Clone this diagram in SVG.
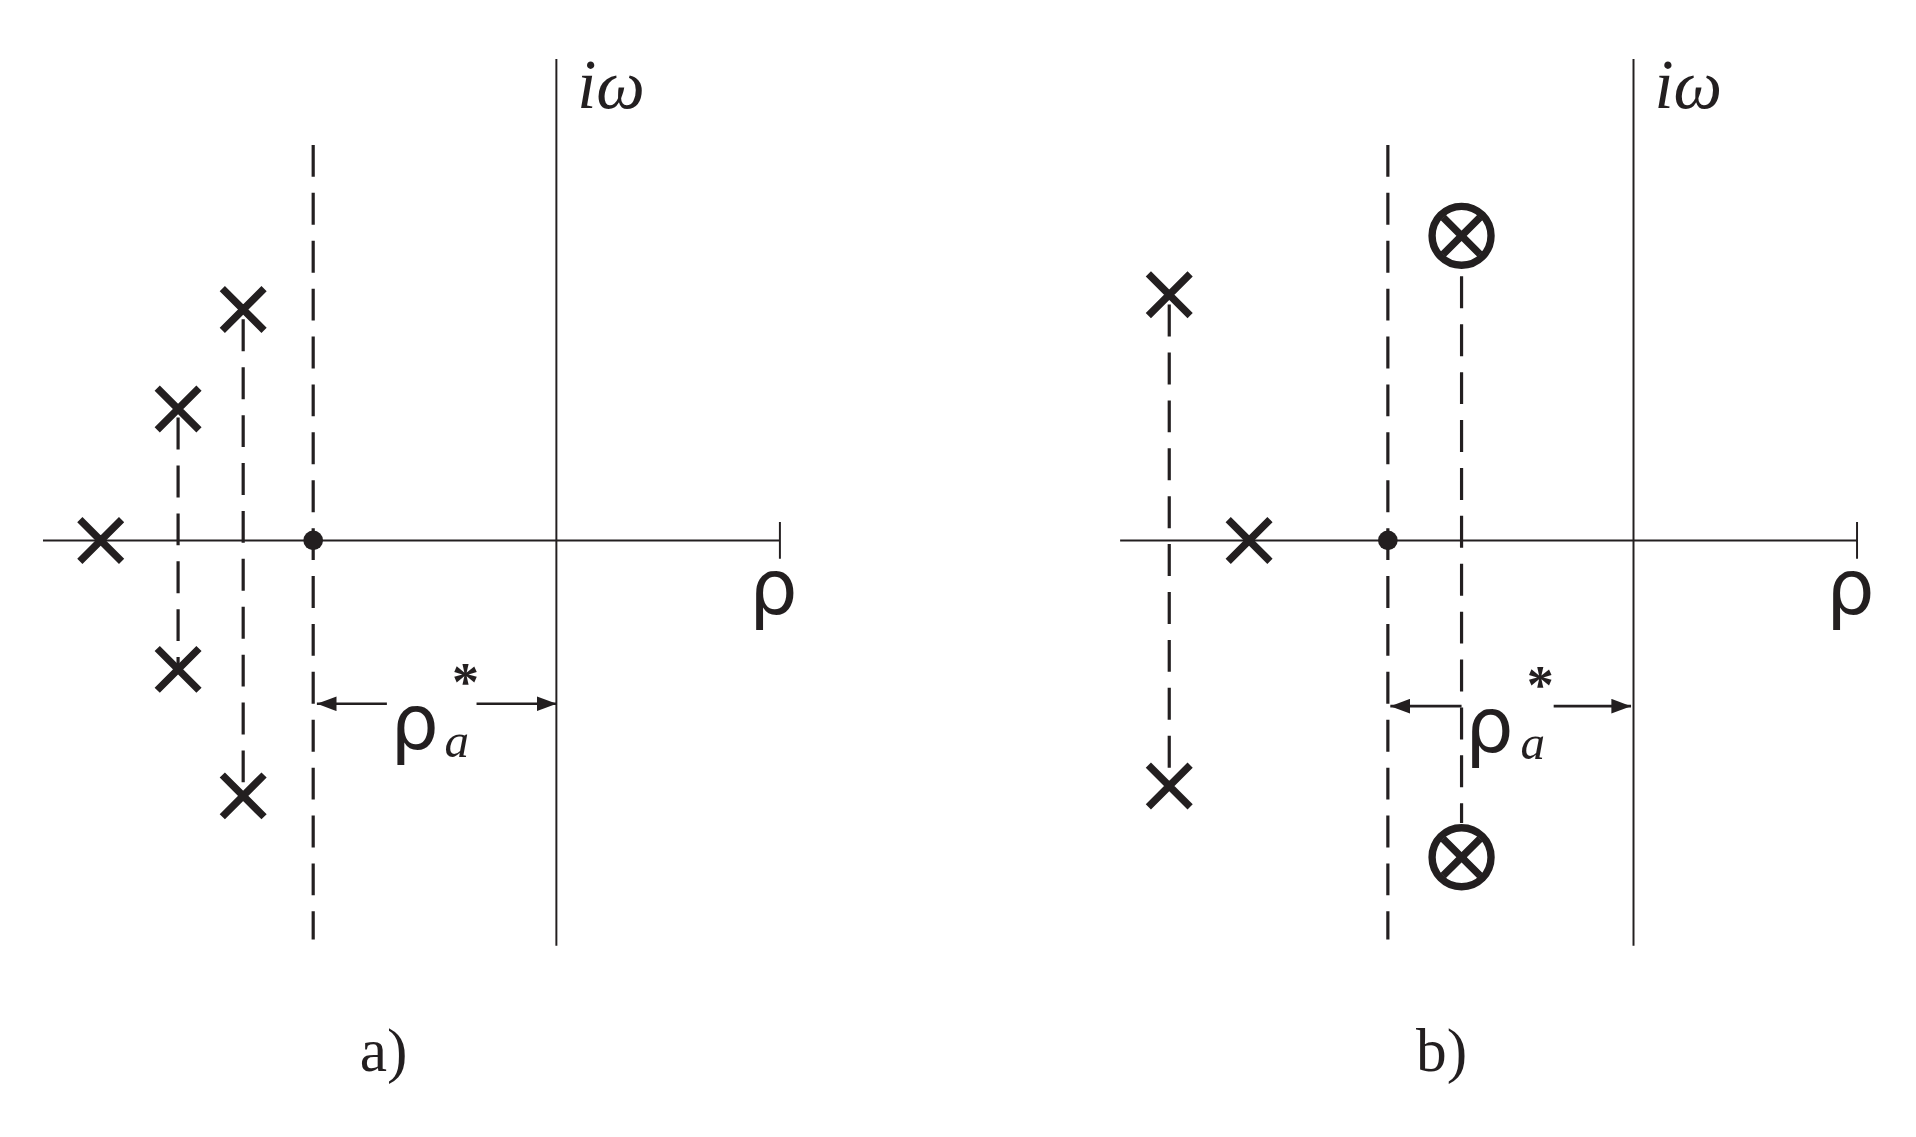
<svg xmlns="http://www.w3.org/2000/svg" width="1916" height="1137" viewBox="0 0 1916 1137">
<style>
.ax{stroke:#231f20;stroke-width:1.6;fill:none}
.ar{stroke:#231f20;stroke-width:2.2;fill:none}
.ds{stroke:#231f20;stroke-width:2.6;stroke-dasharray:26 13;fill:none}
.x{stroke:#231f20;stroke-width:6;fill:none}
.t{font-family:"Liberation Serif",serif;fill:#231f20}
.s{font-family:"DejaVu Sans",sans-serif;fill:#231f20}
</style>
<defs>
<marker id="ah" markerWidth="16" markerHeight="12" refX="16" refY="6" orient="auto-start-reverse" markerUnits="userSpaceOnUse" viewBox="0 0 16 12"><path d="M0,0L16,6L0,12z" fill="#231f20"/></marker>
<g id="cr"><path class="x" d="M-17,-17L17,17M17,-17L-17,17"/></g>
<g id="oc"><circle r="24" fill="none" stroke="#231f20" stroke-width="6"/><path class="x" d="M-15,-15L15,15M15,-15L-15,15" stroke-width="5"/></g>
</defs>
<rect width="1916" height="1137" fill="#fff"/>
<g transform="scale(1.2282)">
<g id="connectors">
<path class="ax" d="M35,440H635M635,425V455M453,48V770"/>
<path class="ds" d="M255,118V765M145,340V545M198,260V648"/>
<path class="ar" d="M258,573H315" marker-start="url(#ah)"/>
<path class="ar" d="M388,573H453" marker-end="url(#ah)"/>
<path class="ax" d="M912,440H1512M1512,425V455M1330,48V770"/>
<path class="ds" d="M1130,118V765M952,248V640M1190,225V670"/>
<path class="ar" d="M1132,575H1190" marker-start="url(#ah)"/>
<path class="ar" d="M1265,575H1328" marker-end="url(#ah)"/>
</g>
<g id="panel-a">
<circle cx="255" cy="440" r="8" fill="#231f20"/>
<use href="#cr" x="82" y="440"/><use href="#cr" x="145" y="333"/><use href="#cr" x="145" y="545"/><use href="#cr" x="198" y="252"/><use href="#cr" x="198" y="648"/>
<text class="t" x="470" y="88" font-size="56" font-style="italic">iω</text>
<text class="s" x="610" y="500" font-size="62">ρ</text>
<text class="s" x="318" y="610" font-size="62">ρ</text>
<text class="t" x="362" y="616" font-size="40" font-style="italic">a</text>
<text class="t" x="368" y="570" font-size="44" font-weight="bold">*</text>
<text class="t" x="293" y="872" font-size="50">a)</text>
</g>
<g id="panel-b">
<circle cx="1130" cy="440" r="8" fill="#231f20"/>
<use href="#cr" x="1017" y="440"/><use href="#cr" x="952" y="240"/><use href="#cr" x="952" y="640"/>
<use href="#oc" x="1190" y="192"/><use href="#oc" x="1190" y="698"/>
<text class="t" x="1347" y="88" font-size="56" font-style="italic">iω</text>
<text class="s" x="1487" y="500" font-size="62">ρ</text>
<text class="s" x="1193" y="612" font-size="62">ρ</text>
<text class="t" x="1238" y="618" font-size="40" font-style="italic">a</text>
<text class="t" x="1243" y="572" font-size="44" font-weight="bold">*</text>
<text class="t" x="1153" y="872" font-size="50">b)</text>
</g>
</g>
</svg>
